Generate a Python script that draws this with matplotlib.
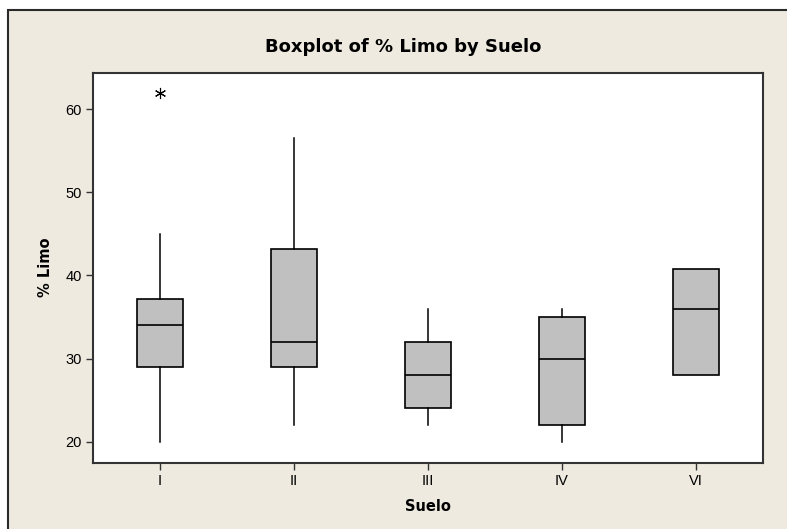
import numpy as np
import matplotlib
matplotlib.use('Agg')
import matplotlib.pyplot as plt
from matplotlib.patches import Rectangle

plt.rcParams['font.family'] = ['Liberation Sans', 'DejaVu Sans']

# values
suelo = ['I', 'II', 'III', 'IV', 'VI']
q1 = [29, 29, 24, 22, 28]
med = [34, 32, 28, 30, 36]
q3 = [37.2, 43.2, 32, 35, 40.8]
whis_lo = [20, 22, 22, 20, 28]
whis_hi = [45, 56.5, 36, 36, 40.8]
outliers = [[62], [], [], [], []]

stats = []
for i in range(len(suelo)):
    stats.append({'label': suelo[i], 'q1': q1[i], 'med': med[i], 'q3': q3[i],
                  'whislo': whis_lo[i], 'whishi': whis_hi[i], 'fliers': outliers[i]})

fig = plt.figure(figsize=(7.87, 5.29), dpi=100)
fig.patch.set_facecolor('white')
# beige minitab frame, cut off at right and bottom
fig.add_artist(Rectangle((8/787, -0.05), 1.1, 1 - 10/529 + 0.05, transform=fig.transFigure,
                         facecolor='#EEEAE0', edgecolor='#2a2a2a', linewidth=1.5, zorder=0))

ax = fig.add_axes([93/787, 1 - 462.7/529, 670/787, 390/529])
ax.set_facecolor('white')
ax.bxp(stats, positions=np.arange(1, 6), widths=0.336, patch_artist=True, showcaps=False,
       boxprops=dict(facecolor='#C0C0C0', edgecolor='black', linewidth=1.2),
       medianprops=dict(color='black', linewidth=1.2),
       whiskerprops=dict(color='black', linewidth=1.1),
       flierprops=dict(marker=(6, 2, 0), markersize=8, markeredgecolor='black',
                       markerfacecolor='none', markeredgewidth=0.8))

ax.set_xlim(0.5, 5.5)
ax.set_ylim(17.47, 64.4)
ax.set_yticks([20, 30, 40, 50, 60])
ax.tick_params(axis='both', direction='out', length=5, width=1, color='#333333',
               labelsize=10.5, pad=3)
for s in ax.spines.values():
    s.set_color('#333333')
    s.set_linewidth(1.5)

ax.set_xlabel('Suelo', fontsize=10.5, fontweight='bold', labelpad=8, family='DejaVu Sans')
ax.set_ylabel('% Limo', fontsize=10.5, fontweight='bold', labelpad=9, family='DejaVu Sans')
fig.text(403/787, 1 - 47/529, 'Boxplot of % Limo by Suelo', fontsize=13,
         fontweight='bold', ha='center', va='center', family='DejaVu Sans')

fig.savefig('out.png', dpi=100)
